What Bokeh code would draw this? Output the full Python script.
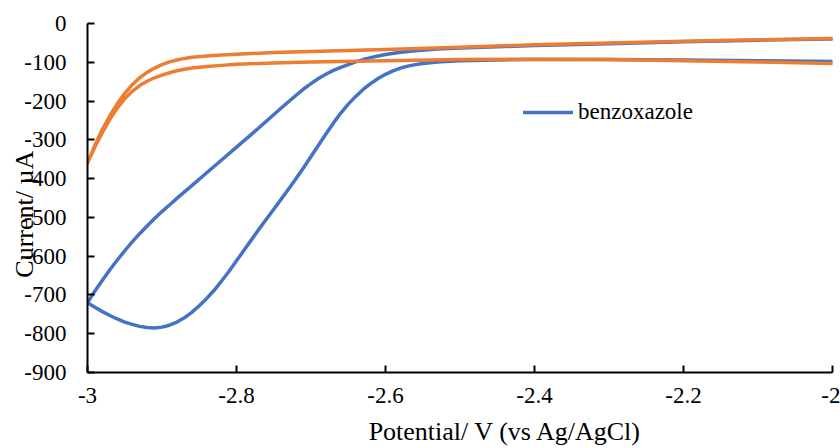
from bokeh.plotting import figure
from bokeh.models import (Range1d, FixedTicker, CustomJSTickFormatter,
                          Legend, LegendItem)
from bokeh.embed import file_html
from bokeh.resources import INLINE

# Cyclic voltammogram of benzoxazole (blue) and the blank electrolyte (orange)
# Potential in V vs Ag/AgCl, current in µA.

# benzoxazole, cathodic sweep (-2.0 -> -3.0 V)
bzx_fwd_v = [-2.00, -2.10, -2.20, -2.30, -2.40, -2.45, -2.50, -2.52, -2.53, -2.54,
             -2.55, -2.56, -2.57, -2.58, -2.59, -2.60, -2.61, -2.62, -2.63, -2.64,
             -2.65, -2.66, -2.67, -2.68, -2.69, -2.70, -2.71, -2.72, -2.73, -2.74,
             -2.75, -2.76, -2.77, -2.78, -2.79, -2.80, -2.81, -2.82, -2.83, -2.84,
             -2.85, -2.86, -2.87, -2.88, -2.89, -2.90, -2.91, -2.92, -2.93, -2.94,
             -2.95, -2.96, -2.97, -2.98, -2.99, -3.00]
bzx_fwd_i = [-98, -96, -94, -93, -93, -94, -96, -98, -99, -101,
             -103, -106, -110, -115, -122, -131, -142, -155, -170, -188,
             -208, -231, -257, -285, -314, -343, -372, -400, -427, -453,
             -479, -505, -531, -558, -585, -612, -639, -664, -688, -709,
             -728, -745, -759, -770, -778, -783, -785, -784, -781, -776,
             -770, -762, -753, -743, -732, -720]

# benzoxazole, return sweep (-3.0 -> -2.0 V)
bzx_rev_v = [-3.00, -2.995, -2.99, -2.98, -2.97, -2.96, -2.95, -2.94, -2.93, -2.92,
             -2.91, -2.90, -2.89, -2.88, -2.86, -2.84, -2.82, -2.80, -2.78, -2.76,
             -2.74, -2.72, -2.71, -2.70, -2.69, -2.68, -2.67, -2.66, -2.65, -2.64,
             -2.63, -2.62, -2.61, -2.60, -2.58, -2.56, -2.53, -2.50, -2.45, -2.40,
             -2.30, -2.20, -2.10, -2.00]
bzx_rev_i = [-720, -705, -690, -662, -635, -610, -586, -563, -542, -522,
             -503, -485, -468, -451, -418, -385, -352, -319, -286, -252,
             -218, -185, -169, -155, -142, -131, -121, -113, -106, -99,
             -93, -88, -84, -80, -74, -70, -66, -63, -60, -57,
             -52, -47, -43, -40]

# blank, cathodic sweep (-2.0 -> -3.0 V)
blank_fwd_v = [-2.00, -2.10, -2.20, -2.30, -2.40, -2.50, -2.60, -2.70, -2.75, -2.80,
               -2.82, -2.84, -2.86, -2.87, -2.88, -2.89, -2.90, -2.91, -2.92, -2.93,
               -2.94, -2.95, -2.96, -2.97, -2.98, -2.99, -3.00]
blank_fwd_i = [-103, -99, -96, -93, -92, -93, -96, -99, -102, -105,
               -108, -111, -115, -118, -122, -127, -133, -140, -149, -160,
               -175, -194, -218, -247, -281, -318, -360]

# blank, return sweep (-3.0 -> -2.0 V)
blank_rev_v = [-3.00, -2.99, -2.98, -2.97, -2.96, -2.95, -2.94, -2.93, -2.92, -2.91,
               -2.90, -2.89, -2.88, -2.87, -2.86, -2.84, -2.82, -2.80, -2.75, -2.70,
               -2.60, -2.50, -2.40, -2.30, -2.20, -2.10, -2.00]
blank_rev_i = [-360, -314, -273, -238, -207, -180, -158, -140, -126, -115,
               -106, -99, -94, -90, -87, -84, -81, -79, -75, -72,
               -67, -61, -55, -50, -46, -42, -39]

x_ticks = [-3.0, -2.8, -2.6, -2.4, -2.2, -2.0]
y_ticks = [0, -100, -200, -300, -400, -500, -600, -700, -800, -900]

legend_label = "benzoxazole"
x_title = "Potential/ V (vs Ag/AgCl)"
y_title = "Current/ µA"

BLUE = "#4472C4"
ORANGE = "#ED7D31"
FONT = "Liberation Serif"
NBSP = "\u00a0"

p = figure(width=840, height=448, output_backend="svg", toolbar_location=None,
           x_range=Range1d(-3, -2), y_range=Range1d(-900, 0),
           min_border_left=87, min_border_right=8, min_border_top=23,
           min_border_bottom=75)
p.outline_line_color = None
p.grid.visible = False
p.background_fill_color = "white"
p.border_fill_color = "white"

bzx_v = bzx_fwd_v + bzx_rev_v[1:]
bzx_i = bzx_fwd_i + bzx_rev_i[1:]
blank_v = blank_fwd_v + blank_rev_v[1:]
blank_i = blank_fwd_i + blank_rev_i[1:]

r_bzx = p.line(bzx_v, bzx_i, line_color=BLUE, line_width=3.5,
               line_join="round", line_cap="round")
p.line(blank_v, blank_i, line_color=ORANGE, line_width=3.5,
       line_join="round", line_cap="round")

for ax in (p.xaxis[0], p.yaxis[0]):
    ax.axis_line_color = "black"
    ax.axis_line_width = 2
    ax.major_tick_line_color = "black"
    ax.major_tick_line_width = 2
    ax.major_tick_in = 7
    ax.major_tick_out = 0
    ax.minor_tick_line_color = None
    ax.major_label_text_font = FONT
    ax.major_label_text_font_size = "23px"
    ax.major_label_text_color = "black"
    ax.axis_label_text_font = FONT
    ax.axis_label_text_font_size = "26px"
    ax.axis_label_text_font_style = "normal"
    ax.axis_label_text_color = "black"

p.xaxis.ticker = FixedTicker(ticks=x_ticks)
p.xaxis.formatter = CustomJSTickFormatter(
    code="return (Math.round(tick * 10) / 10).toString();")
p.xaxis.major_label_standoff = 15
# leading no-break spaces push the title a little right of the axis centre
p.xaxis.axis_label = NBSP * 14 + x_title
p.xaxis.axis_label_standoff = 11

p.yaxis.ticker = FixedTicker(ticks=y_ticks)
p.yaxis.formatter = CustomJSTickFormatter(
    code="return Math.round(tick).toString();")
p.yaxis.major_label_standoff = 21
# the title sits over the tick labels, slightly below the axis centre
p.yaxis.axis_label = y_title + NBSP * 5
p.yaxis.axis_label_standoff = -18

legend = Legend(items=[LegendItem(label=legend_label, renderers=[r_bzx])],
                location=(436, 247), padding=0, margin=0, spacing=0,
                glyph_width=50, glyph_height=20, label_height=20,
                label_standoff=5, label_text_font=FONT,
                label_text_font_size="23px", label_text_color="black",
                border_line_color=None, background_fill_alpha=0)
p.add_layout(legend)

open("out.html", "w").write(file_html(p, INLINE))
